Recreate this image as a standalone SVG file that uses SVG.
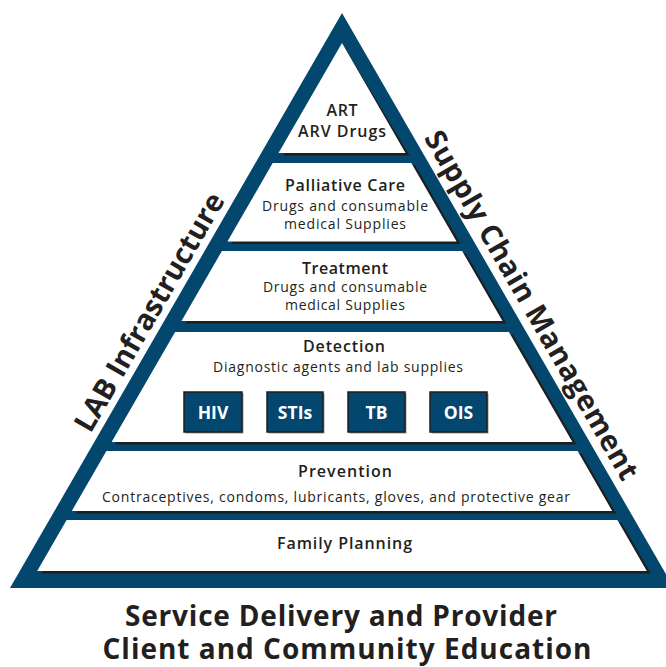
<svg xmlns="http://www.w3.org/2000/svg" width="666" height="667" viewBox="0 0 666 667">
<defs>
<style>
.bg{fill:#ffffff}
.frame{fill:#03466e}
.band{fill:#ffffff}
.shadow{fill:#1e1e1e}
.t{font-family:"Open Sans","Noto Sans","Liberation Sans",sans-serif;fill:#231f20;text-anchor:middle}
.h{font-size:16px;font-weight:600}
.b{font-size:14px;font-weight:400}
.side{font-size:29px;font-weight:700}
.foot{font-size:28px;font-weight:700}
.box{fill:#03466e;stroke:#1e1e1e;stroke-width:1.5}
.boxsh{fill:#9a9a9a}
.bt{font-family:"Open Sans","Noto Sans","Liberation Sans",sans-serif;fill:#ffffff;font-size:17.5px;font-weight:700;text-anchor:middle}
</style>
</defs>
<rect class="bg" x="0" y="0" width="666" height="667"/>
<g id="frame">
<polygon class="frame" points="342,13 10,588 674,588"/>
</g>
<g id="art">
<polygon class="shadow" points="344.5,47 283,155.5 409.5,155.5"/>
<polygon class="band" points="342,43 278.5,153 405.5,153"/>
<text class="t h" x="342" y="116" textLength="31">ART</text>
<text class="t h" x="342" y="137" textLength="88">ARV Drugs</text>
</g>
<g id="palliative">
<polygon class="shadow" points="276.7,165.5 415.3,165.5 460.6,244 231.4,244"/>
<polygon class="band" points="272.7,163 411.3,163 456.6,241.5 227.4,241.5"/>
<text class="t h" x="345" y="191" textLength="120">Palliative Care</text>
<text class="t b" x="345" y="210.5" textLength="166">Drugs and consumable</text>
<text class="t b" x="345" y="229" textLength="122">medical Supplies</text>
</g>
<g id="treatment">
<polygon class="shadow" points="225.9,253.5 466.1,253.5 506.5,323.5 185.5,323.5"/>
<polygon class="band" points="221.9,251 462.1,251 502.5,321 181.5,321"/>
<text class="t h" x="345" y="274" textLength="86">Treatment</text>
<text class="t b" x="345" y="292" textLength="164">Drugs and consumable</text>
<text class="t b" x="345" y="310" textLength="120">medical Supplies</text>
</g>
<g id="detection">
<polygon class="shadow" points="179.1,334.5 512.9,334.5 576.4,444.5 115.6,444.5"/>
<polygon class="band" points="175.1,332 508.9,332 572.4,442 111.6,442"/>
<text class="t h" x="344" y="352" textLength="82">Detection</text>
<text class="t b" x="338" y="372" textLength="250">Diagnostic agents and lab supplies</text>
</g>
<g id="hiv">
<rect class="boxsh" x="185.5" y="393.5" width="58" height="40"/>
<rect class="box" x="184" y="392" width="58" height="40"/>
<text class="bt" x="213" y="419">HIV</text>
</g>
<g id="stis">
<rect class="boxsh" x="268.5" y="393.5" width="56" height="40"/>
<rect class="box" x="267" y="392" width="56" height="40"/>
<text class="bt" x="295" y="419">STIs</text>
</g>
<g id="tb">
<rect class="boxsh" x="349.5" y="393.5" width="57" height="40"/>
<rect class="box" x="348" y="392" width="57" height="40"/>
<text class="bt" x="376.5" y="419">TB</text>
</g>
<g id="ois">
<rect class="boxsh" x="431.5" y="393.5" width="57" height="40"/>
<rect class="box" x="430" y="392" width="57" height="40"/>
<text class="bt" x="458.5" y="419">OIS</text>
</g>
<g id="prevention">
<polygon class="shadow" points="110.4,453.5 581.6,453.5 616.2,513.5 75.8,513.5"/>
<polygon class="band" points="106.4,451 577.6,451 612.2,511 71.8,511"/>
<text class="t h" x="345" y="477" textLength="94">Prevention</text>
<text class="t b" x="336" y="502" textLength="468">Contraceptives, condoms, lubricants, gloves, and protective gear</text>
</g>
<g id="family">
<polygon class="shadow" points="70.6,522.5 621.4,522.5 650.8,573.5 41.2,573.5"/>
<polygon class="band" points="66.6,520 617.4,520 646.8,571 37.2,571"/>
<text class="t h" x="344.5" y="549" textLength="135">Family Planning</text>
</g>
<g id="lab">
<text class="t side" transform="translate(158,317) rotate(-60)" x="0" y="0" textLength="270">LAB Infrastructure</text>
</g>
<g id="supply">
<text class="t side" transform="translate(523,310) rotate(60)" x="0" y="0" textLength="398">Supply Chain Management</text>
</g>
<g id="footer">
<text class="t foot" x="341" y="626" textLength="432">Service Delivery and Provider</text>
<text class="t foot" x="347" y="659" textLength="489">Client and Community Education</text>
</g>
<g id="connectors"></g>
</svg>
